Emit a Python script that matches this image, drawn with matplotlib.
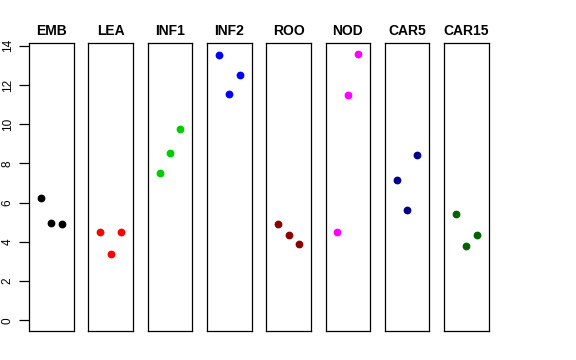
import matplotlib
matplotlib.use("Agg")
import matplotlib.pyplot as plt

plt.rcParams['font.family'] = ['Liberation Sans', 'DejaVu Sans']

tissues = ["EMB", "LEA", "INF1", "INF2", "ROO", "NOD", "CAR5", "CAR15"]
colors = ["black", "#FF0000", "#00CD00", "#0000FF", "#8B0000", "#FF00FF", "#00008B", "#006400"]
rep_x = [1, 2, 3]
emb = [6.24, 4.96, 4.91]
lea = [4.52, 3.36, 4.52]
inf1 = [7.51, 8.51, 9.76]
inf2 = [13.53, 11.54, 12.49]
roo = [4.93, 4.33, 3.88]
nod = [4.52, 11.49, 13.60]
car5 = [7.15, 5.61, 8.41]
car15 = [5.41, 3.81, 4.35]
values = [emb, lea, inf1, inf2, roo, nod, car5, car15]
yticks = [0, 2, 4, 6, 8, 10, 12, 14]

W, H = 576, 360
fig = plt.figure(figsize=(W / 100, H / 100), dpi=100)

ymax = 13.6
ylim = (0 - 0.04 * ymax, ymax * 1.04)
xlim = (0 - 0.16, 4 + 0.16)

for i, (name, col, vals) in enumerate(zip(tissues, colors, values)):
    left = 29 + 59.3 * i
    ax = fig.add_axes([left / W, 29 / H, 44.6 / W, 288 / H])
    ax.plot(rep_x, vals, 'o', color=col, ms=4.6, mec=col)
    ax.set_xlim(*xlim)
    ax.set_ylim(*ylim)
    ax.set_xticks([])
    for s in ax.spines.values():
        s.set_linewidth(0.9)
        s.set_color("black")
    ax.set_title(name, fontsize=10, fontweight='bold', pad=6)
    if i == 0:
        ax.set_yticks(yticks)
        ax.set_yticklabels([str(t) for t in yticks], rotation=90, va='center', fontsize=8.5)
        ax.tick_params(axis='y', length=7, width=0.9, pad=4)
    else:
        ax.set_yticks([])

fig.savefig("out.png", dpi=100)
